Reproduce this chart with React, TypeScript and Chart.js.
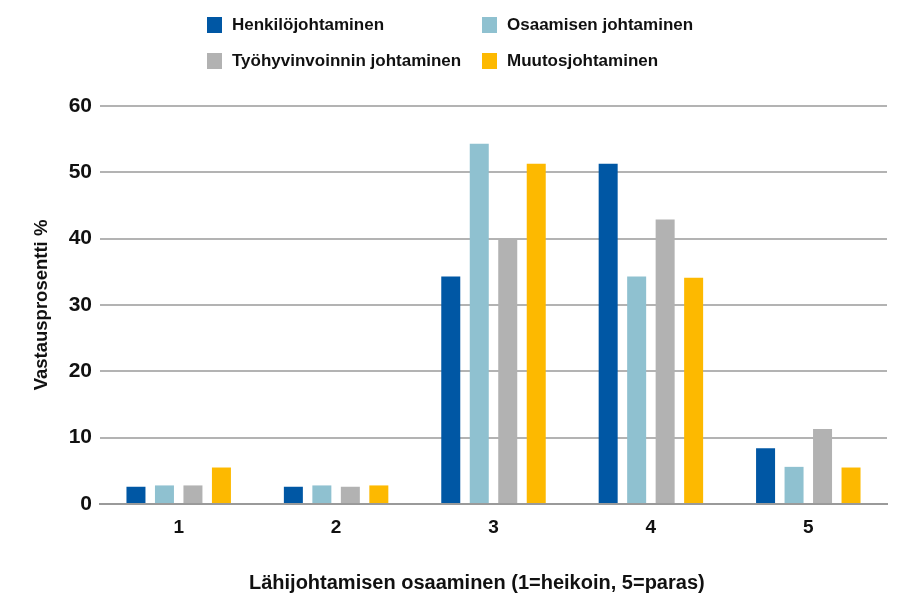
import React, { useEffect, useRef } from "react";
import { Chart, registerables } from "chart.js";

Chart.register(...registerables);

const categories = ["1", "2", "3", "4", "5"];
const seriesNames = [
  "Henkilöjohtaminen",
  "Osaamisen johtaminen",
  "Työhyvinvoinnin johtaminen",
  "Muutosjohtaminen",
];
const henkilo = [2.6, 2.6, 34.3, 51.3, 8.4];
const osaaminen = [2.8, 2.8, 54.3, 34.3, 5.6];
const tyohyvinvointi = [2.8, 2.6, 40.0, 42.9, 11.3];
const muutos = [5.5, 2.8, 51.3, 34.1, 5.5];
const colors = ["#0057A4", "#8FC1D0", "#B2B2B2", "#FDB900"];
const yTicks = [0, 10, 20, 30, 40, 50, 60];

const FONT = "'Liberation Sans', Arial, sans-serif";

export default function App() {
  const ref = useRef<HTMLCanvasElement | null>(null);

  useEffect(() => {
    document.body.style.margin = "0";
    const values = [henkilo, osaaminen, tyohyvinvointi, muutos];
    const chart = new Chart(ref.current as HTMLCanvasElement, {
      type: "bar",
      data: {
        labels: categories,
        datasets: seriesNames.map((name, i) => ({
          label: name,
          data: values[i],
          backgroundColor: colors[i],
          borderWidth: 0,
          categoryPercentage: 0.724,
          barPercentage: 0.667,
        })),
      },
      options: {
        animation: false,
        responsive: false,
        maintainAspectRatio: false,
        layout: { padding: { top: 106, right: 13, bottom: 0, left: 0 } },
        plugins: {
          legend: { display: false },
          tooltip: { enabled: false },
        },
        scales: {
          x: {
            grid: { display: false, drawTicks: false },
            border: { display: true, color: "#9a9a9a", width: 2 },
            ticks: {
              color: "#111",
              padding: 12,
              font: { family: FONT, size: 19, weight: "bold" },
            },
            title: {
              display: true,
              text: "Lähijohtamisen osaaminen (1=heikoin, 5=paras)\u00A0\u00A0\u00A0\u00A0\u00A0\u00A0",
              color: "#111",
              font: { family: FONT, size: 20, weight: "bold" },
              padding: { top: 0, bottom: 0 },
            },
            afterFit: (s: any) => {
              s.height = 91;
            },
          },
          y: {
            min: 0,
            max: 60,
            afterBuildTicks: (s: any) => {
              s.ticks = yTicks.map((v) => ({ value: v }));
            },
            grid: {
              color: "#b3b3b3",
              lineWidth: 2,
              drawTicks: false,
            },
            border: { display: false },
            ticks: {
              color: "#111",
              padding: 8,
              font: { family: FONT, size: 21, weight: "bold" },
            },
            title: {
              display: true,
              text: "Vastausprosentti %",
              color: "#111",
              font: { family: FONT, size: 18.5, weight: "bold" },
              padding: { top: 31, bottom: 0 },
            },
            afterFit: (s: any) => {
              s.width = 100;
            },
          },
        },
      },
    });
    return () => chart.destroy();
  }, []);

  const legendItem = (i: number, left: number, top: number) => (
    <div
      key={i}
      style={{
        position: "absolute",
        left,
        top,
        height: 20,
        display: "flex",
        alignItems: "center",
        fontFamily: FONT,
        fontWeight: "bold",
        fontSize: 17,
        color: "#111",
        whiteSpace: "nowrap",
      }}
    >
      <span
        style={{
          display: "inline-block",
          width: 15,
          height: 16,
          background: colors[i],
          marginRight: 10,
        }}
      />
      <span>{seriesNames[i]}</span>
    </div>
  );

  return (
    <div style={{ position: "relative", width: 900, height: 595 }}>
      <canvas ref={ref} width={900} height={595} style={{ display: "block" }} />
      {legendItem(0, 207, 15)}
      {legendItem(1, 482, 15)}
      {legendItem(2, 207, 51)}
      {legendItem(3, 482, 51)}
    </div>
  );
}
